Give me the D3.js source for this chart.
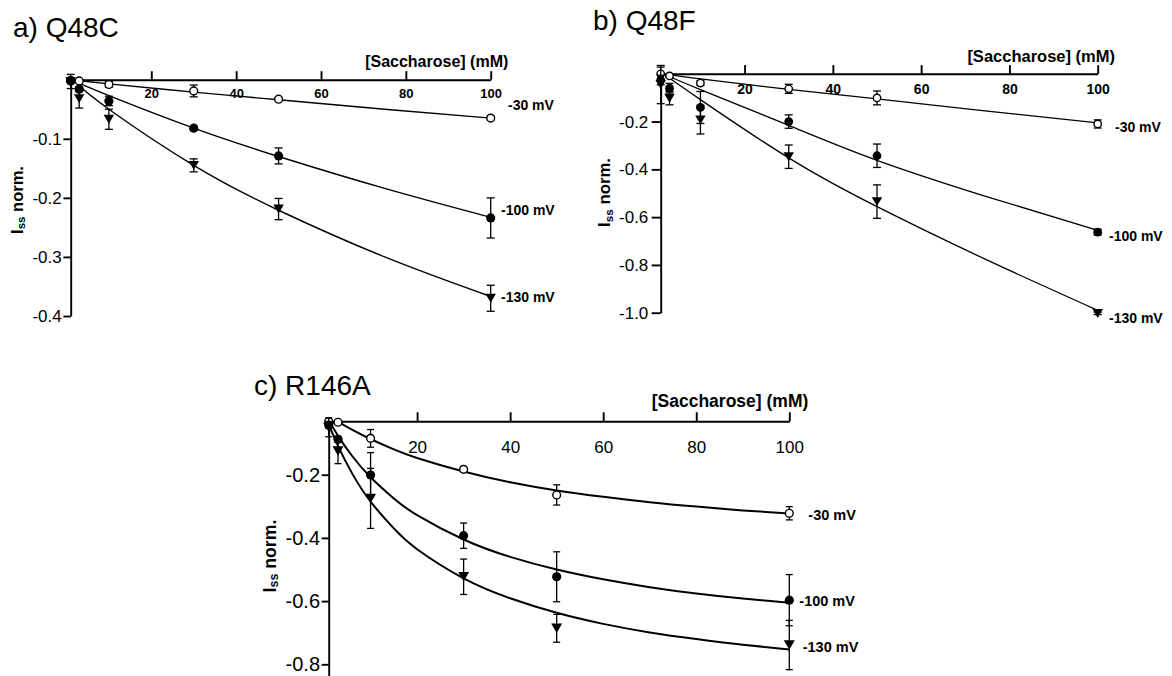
<!DOCTYPE html>
<html>
<head>
<meta charset="utf-8">
<script src="https://cdn.jsdelivr.net/npm/d3@7"></script>
<style>
  html, body { margin: 0; padding: 0; background: #fff; }
  svg { display: block; }
</style>
</head>
<body>
<svg id="chart" width="1172" height="676"></svg>
<script>
// Sucrose concentrations (mM) and holding potentials
const conc = [1, 3, 10, 30, 50, 100];
const voltages = ["-30 mV", "-100 mV", "-130 mV"];
const xTicks = [20, 40, 60, 80, 100];

// a) Q48C — normalised steady-state currents (mean, s.e.m.)
const q48cYTicks = [-0.1, -0.2, -0.3, -0.4];
const q48cMean30  = [-0.001, -0.002, -0.008, -0.019, -0.033, -0.065];
const q48cErr30   = [0.002, 0.002, 0.005, 0.010, 0.003, 0.003];
const q48cMean100 = [-0.002, -0.016, -0.036, -0.082, -0.129, -0.234];
const q48cErr100  = [0.003, 0.004, 0.008, 0.003, 0.0135, 0.034];
const q48cMean130 = [-0.003, -0.032, -0.067, -0.145, -0.219, -0.370];
const q48cErr130  = [0.012, 0.016, 0.017, 0.011, 0.018, 0.022];
const q48cFitX    = [2, 10, 30, 50, 75, 100];
const q48cFit30   = [-0.001, -0.007, -0.021, -0.034, -0.050, -0.065];
const q48cFit100  = [-0.003, -0.027, -0.082, -0.130, -0.184, -0.233];
const q48cFit130  = [-0.004, -0.050, -0.145, -0.221, -0.300, -0.367];

// b) Q48F
const q48fYTicks = [-0.2, -0.4, -0.6, -0.8, -1.0];
const q48fMean30  = [0.0, -0.009, -0.039, -0.063, -0.101, -0.210];
const q48fErr30   = [0.028, 0.005, 0.010, 0.019, 0.029, 0.017];
const q48fMean100 = [-0.026, -0.060, -0.141, -0.200, -0.343, -0.663];
const q48fErr100  = [0.02, 0.02, 0.067, 0.028, 0.049, 0.012];
const q48fMean130 = [-0.045, -0.102, -0.193, -0.347, -0.535, -1.003];
const q48fErr130  = [0.08, 0.028, 0.059, 0.049, 0.070, 0.005];
const q48fFitX    = [2, 10, 30, 50, 75, 100];
const q48fFit30   = [-0.001, -0.021, -0.065, -0.105, -0.156, -0.205];
const q48fFit100  = [-0.004, -0.066, -0.216, -0.362, -0.515, -0.655];
const q48fFit130  = [-0.005, -0.108, -0.352, -0.556, -0.780, -0.990];

// c) R146A
const r146aYTicks = [-0.2, -0.4, -0.6, -0.8];
const r146aMean30  = [-0.032, -0.034, -0.085, -0.183, -0.264, -0.322];
const r146aErr30   = [0.005, 0.005, 0.028, 0.008, 0.032, 0.021];
const r146aMean100 = [-0.043, -0.088, -0.201, -0.393, -0.523, -0.597];
const r146aErr100  = [0.01, 0.01, 0.071, 0.040, 0.079, 0.081];
const r146aMean130 = [-0.05, -0.125, -0.275, -0.523, -0.686, -0.739];
const r146aErr130  = [0.03, 0.04, 0.095, 0.056, 0.044, 0.078];
const r146aFitX    = [1, 3, 6, 10, 15, 20, 30, 40, 50, 60, 70, 80, 90, 100];
const r146aFit30   = [null, -0.033, -0.057, -0.087, -0.120, -0.147, -0.190, -0.224, -0.250, -0.270, -0.287, -0.301, -0.313, -0.323];
const r146aFit100  = [-0.028, -0.077, -0.140, -0.208, -0.275, -0.328, -0.405, -0.460, -0.500, -0.531, -0.556, -0.576, -0.592, -0.605];
const r146aFit130  = [-0.040, -0.109, -0.195, -0.285, -0.370, -0.436, -0.528, -0.591, -0.637, -0.672, -0.699, -0.720, -0.738, -0.753];

const FONT = "'Liberation Sans', Arial, Helvetica, sans-serif";
const markerKinds = ["open", "filled", "triangle"];

// Panel layout and typography
const panels = [
  {
    title: "a) Q48C", titleX: 13, titleY: 37,
    xRange: [70.7, 490.7], yRange: [79.7, 316], yDomain: [0, -0.4], yTicks: q48cYTicks,
    xTickLen: 8.5, xTickSize: 13, xTickWeight: "bold", xTickBaseline: 18.3,
    yTickLen: 7.3, yTickPad: 1.7, yTickSize: 17,
    yTitle: [16.7, 200, 16.5], xTitle: [508.3, 67, 16],
    labelDx: [17.3, 10.3, 10.3], labelAt: [-0.0428, -0.2206, -0.368], labelSize: 14,
    means: [q48cMean30, q48cMean100, q48cMean130], errs: [q48cErr30, q48cErr100, q48cErr130],
    fitX: q48cFitX, fits: [q48cFit30, q48cFit100, q48cFit130],
    fitWidth: 1.4, r: 4.6, tri: 10.5, cap: 8
  },
  {
    title: "b) Q48F", titleX: 593, titleY: 29.5,
    xRange: [660.7, 1097.7], yRange: [73.8, 312.7], yDomain: [0, -1.0], yTicks: q48fYTicks,
    xTickLen: 8.7, xTickSize: 14, xTickWeight: "bold", xTickBaseline: 20.3,
    yTickLen: 9, yTickPad: 3.4, yTickSize: 17,
    yTitle: [604, 192.5, 16.8], xTitle: [1115, 62, 16.5],
    labelDx: [17.3, 11.3, 11.3], labelAt: [-0.224, -0.678, -1.021], labelSize: 14,
    means: [q48fMean30, q48fMean100, q48fMean130], errs: [q48fErr30, q48fErr100, q48fErr130],
    fitX: q48fFitX, fits: [q48fFit30, q48fFit100, q48fFit130],
    fitWidth: 1.3, r: 4.4, tri: 10.5, cap: 8
  },
  {
    title: "c) R146A", titleX: 254, titleY: 395,
    xRange: [328.7, 789.3], yRange: [421.3, 676], yDomain: [-0.031, -0.837], yTicks: r146aYTicks,
    xTickLen: 9, xTickSize: 17, xTickWeight: "normal", xTickBaseline: 31.5,
    yTickLen: 7, yTickPad: 1.7, yTickSize: 20,
    yTitle: [270, 556, 17.7], xTitle: [808.3, 407, 17.5],
    labelDx: [19, 10, 13.4], labelAt: [-0.3275, -0.601, -0.744], labelSize: 14.5,
    means: [r146aMean30, r146aMean100, r146aMean130], errs: [r146aErr30, r146aErr100, r146aErr130],
    fitX: r146aFitX, fits: [r146aFit30, r146aFit100, r146aFit130],
    fitWidth: 2, r: 4.6, tri: 11, cap: 7
  }
];

const svg = d3.select("#chart").attr("font-family", FONT);
svg.append("rect").attr("width", 1172).attr("height", 676).attr("fill", "#fff");

function trianglePath(w) {
  const h = w * 0.85;
  return `M${-w / 2},${-h / 2}L${w / 2},${-h / 2}L0,${h / 2}Z`;
}

function drawPanel(p) {
  const g = svg.append("g");
  const x = d3.scaleLinear().domain([1, 100]).range(p.xRange);
  const y = d3.scaleLinear().domain(p.yDomain).range(p.yRange);

  // Panel title
  g.append("text")
    .attr("x", p.titleX).attr("y", p.titleY)
    .attr("font-size", 28).attr("fill", "#000")
    .text(p.title);

  // Fitted curves (smooth cubic through the sampled fit values)
  const line = d3.line()
    .x(d => x(d[0])).y(d => y(d[1]))
    .curve(d3.curveNatural);
  p.fits.forEach(fit => {
    g.append("path")
      .datum(p.fitX.map((c, i) => [c, fit[i]]).filter(d => d[1] != null))
      .attr("d", line)
      .attr("fill", "none").attr("stroke", "#000")
      .attr("stroke-width", p.fitWidth);
  });

  // Axes
  const axisWidth = 1.9;
  const gx = g.append("g")
    .attr("transform", `translate(0,${y(p.yDomain[0])})`)
    .call(d3.axisTop(x).tickValues(xTicks).tickSize(p.xTickLen).tickSizeOuter(0)
      .tickFormat(d3.format("d")));
  gx.attr("font-family", FONT).attr("font-size", p.xTickSize).attr("font-weight", p.xTickWeight);
  gx.select(".domain").attr("stroke-width", axisWidth);
  gx.selectAll(".tick line").attr("stroke-width", axisWidth);
  gx.selectAll(".tick text").attr("y", p.xTickBaseline).attr("dy", 0).attr("fill", "#000");

  const gy = g.append("g")
    .attr("transform", `translate(${x(1)},0)`)
    .call(d3.axisLeft(y).tickValues(p.yTicks).tickSize(p.yTickLen).tickSizeOuter(0)
      .tickPadding(p.yTickPad).tickFormat(d => d.toFixed(1)));
  gy.attr("font-family", FONT).attr("font-size", p.yTickSize);
  gy.select(".domain").attr("stroke-width", axisWidth);
  gy.selectAll(".tick line").attr("stroke-width", axisWidth);
  gy.selectAll(".tick text").attr("fill", "#000");

  // Axis titles
  g.append("text")
    .attr("x", p.xTitle[0]).attr("y", p.xTitle[1])
    .attr("text-anchor", "end").attr("font-weight", "bold")
    .attr("font-size", p.xTitle[2])
    .text("[Saccharose] (mM)");

  const yt = g.append("text")
    .attr("transform", `translate(${p.yTitle[0]},${p.yTitle[1]}) rotate(-90)`)
    .attr("text-anchor", "middle").attr("dominant-baseline", "central")
    .attr("font-weight", "bold").attr("font-size", p.yTitle[2]);
  yt.append("tspan").text("I");
  yt.append("tspan").attr("font-size", "0.7em").attr("dy", "0.35em").text("ss");
  yt.append("tspan").attr("dy", "-0.25em").text(" norm.");

  // Error bars and markers
  p.means.forEach((mean, s) => {
    const err = p.errs[s];
    const pts = conc.map((c, i) => ({ c, m: mean[i], e: err[i] }));
    const eb = g.append("g").attr("stroke", "#000").attr("stroke-width", 1.3);
    pts.forEach(d => {
      const cx = x(d.c), y0 = y(d.m + d.e), y1 = y(d.m - d.e);
      eb.append("line").attr("x1", cx).attr("x2", cx).attr("y1", y0).attr("y2", y1);
      eb.append("line").attr("x1", cx - p.cap / 2).attr("x2", cx + p.cap / 2).attr("y1", y0).attr("y2", y0);
      eb.append("line").attr("x1", cx - p.cap / 2).attr("x2", cx + p.cap / 2).attr("y1", y1).attr("y2", y1);
    });
    const kind = markerKinds[s];
    const mk = g.append("g");
    if (kind === "triangle") {
      mk.selectAll("path").data(pts).join("path")
        .attr("transform", d => `translate(${x(d.c)},${y(d.m)})`)
        .attr("d", trianglePath(p.tri)).attr("fill", "#000");
    } else {
      mk.selectAll("circle").data(pts).join("circle")
        .attr("cx", d => x(d.c)).attr("cy", d => y(d.m))
        .attr("r", kind === "open" ? p.r - 0.7 : p.r)
        .attr("fill", kind === "open" ? "#fff" : "#000")
        .attr("stroke", "#000").attr("stroke-width", kind === "open" ? 1.4 : 0);
    }
  });

  // Series labels at the right-hand end
  voltages.forEach((v, s) => {
    g.append("text")
      .attr("x", x(100) + p.labelDx[s]).attr("y", y(p.labelAt[s]))
      .attr("dominant-baseline", "central")
      .attr("font-weight", "bold").attr("font-size", p.labelSize)
      .text(v);
  });
}

panels.forEach(drawPanel);
</script>
</body>
</html>
